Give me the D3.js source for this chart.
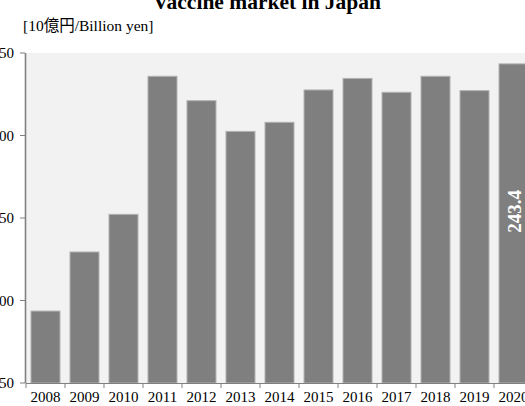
<!DOCTYPE html>
<html>
<head>
<meta charset="utf-8">
<script src="https://cdn.jsdelivr.net/npm/d3@7"></script>
<style>
  body { margin: 0; background: #fff; overflow: hidden; }
  svg text { font-family: "Liberation Serif", "Times New Roman", "Noto Sans CJK JP", serif; }
</style>
</head>
<body>
<div id="chart"></div>
<script>
var years = ["2008", "2009", "2010", "2011", "2012", "2013", "2014",
             "2015", "2016", "2017", "2018", "2019", "2020"];
var sales = [93.6, 129.4, 152.2, 235.9, 221.1, 202.5, 208.0,
             227.6, 234.6, 226.2, 235.9, 227.2, 243.4];
var yTicks = [50, 100, 150, 200, 250];
var labelled = ["2020"];

function init() {
    var w = 525;
    var h = 406;

    var x = d3.scaleBand()
              .domain(years)
              .range([26, 533])
              .paddingInner(0.2564)
              .paddingOuter(0.128);

    var y = d3.scaleLinear()
              .domain([50, 250])
              .range([383, 53]);

    var svg = d3.select("#chart")
                .append("svg")
                .attr("width", w)
                .attr("height", h);

    // plot background
    svg.append("rect")
       .attr("x", x.range()[0])
       .attr("y", y(250))
       .attr("width", x.range()[1] - x.range()[0])
       .attr("height", y(50) - y(250))
       .style("fill", "#f2f2f2");

    svg.append("text")
       .attr("x", 267)
       .attr("y", 9)
       .attr("text-anchor", "middle")
       .style("font-size", "21.5px")
       .style("font-weight", "bold")
       .text("Vaccine market in Japan");

    svg.append("text")
       .attr("x", 23)
       .attr("y", 31)
       .style("font-size", "15.5px")
       .text("[10億円/Billion yen]");

    svg.selectAll("rect.bar")
       .data(sales)
       .enter()
       .append("rect")
       .attr("class", "bar")
       .attr("x", function(d, i) { return x(years[i]); })
       .attr("y", function(d) { return y(d); })
       .attr("width", x.bandwidth())
       .attr("height", function(d) { return y(50) - y(d); })
       .style("fill", "#7f7f7f")
       .style("stroke", "#b3b3b3")
       .style("stroke-width", 1);

    // value label
    years.forEach(function(yr, i) {
        if (labelled.indexOf(yr) < 0) return;
        var cx = x(yr) + x.bandwidth() / 2;
        var cy = (y(sales[i]) + y(50)) / 2 - 12;
        svg.append("text")
           .attr("transform", "translate(" + (cx + 7) + "," + cy + ") rotate(-90)")
           .attr("text-anchor", "middle")
           .style("font-size", "19px")
           .style("font-weight", "bold")
           .style("fill", "#ffffff")
           .text(sales[i].toFixed(1));
    });

    // y axis
    var yAxis = svg.append("g").attr("class", "y-axis");
    yAxis.append("line")
         .attr("x1", 25.5).attr("x2", 25.5)
         .attr("y1", y(250)).attr("y2", y(50))
         .style("stroke", "#808080")
         .style("stroke-width", 1.6);
    yAxis.selectAll("line.tick")
         .data(yTicks)
         .enter()
         .append("line")
         .attr("class", "tick")
         .attr("x1", 20).attr("x2", 25)
         .attr("y1", function(d) { return y(d); })
         .attr("y2", function(d) { return y(d); })
         .style("stroke", "#808080")
         .style("stroke-width", 1);
    yAxis.selectAll("text")
         .data(yTicks)
         .enter()
         .append("text")
         .attr("x", 14)
         .attr("y", function(d) { return y(d) + 5; })
         .attr("text-anchor", "end")
         .style("font-size", "15px")
         .text(function(d) { return d; });

    // x axis
    var xAxis = svg.append("g").attr("class", "x-axis");
    xAxis.append("line")
         .attr("x1", x.range()[0]).attr("x2", x.range()[1])
         .attr("y1", y(50) + 0.5).attr("y2", y(50) + 0.5)
         .style("stroke", "#808080")
         .style("stroke-width", 1.2);
    xAxis.selectAll("line.tick")
         .data(years)
         .enter()
         .append("line")
         .attr("class", "tick")
         .attr("x1", function(d) { return x(d) - x.step() * x.paddingInner() / 2; })
         .attr("x2", function(d) { return x(d) - x.step() * x.paddingInner() / 2; })
         .attr("y1", y(50)).attr("y2", y(50) + 5)
         .style("stroke", "#808080")
         .style("stroke-width", 1);
    xAxis.selectAll("text")
         .data(years)
         .enter()
         .append("text")
         .attr("x", function(d) { return x(d) + x.bandwidth() / 2; })
         .attr("y", 402)
         .attr("text-anchor", "middle")
         .style("font-size", "15px")
         .text(function(d) { return d; });
}

window.onload = init;
</script>
</body>
</html>
